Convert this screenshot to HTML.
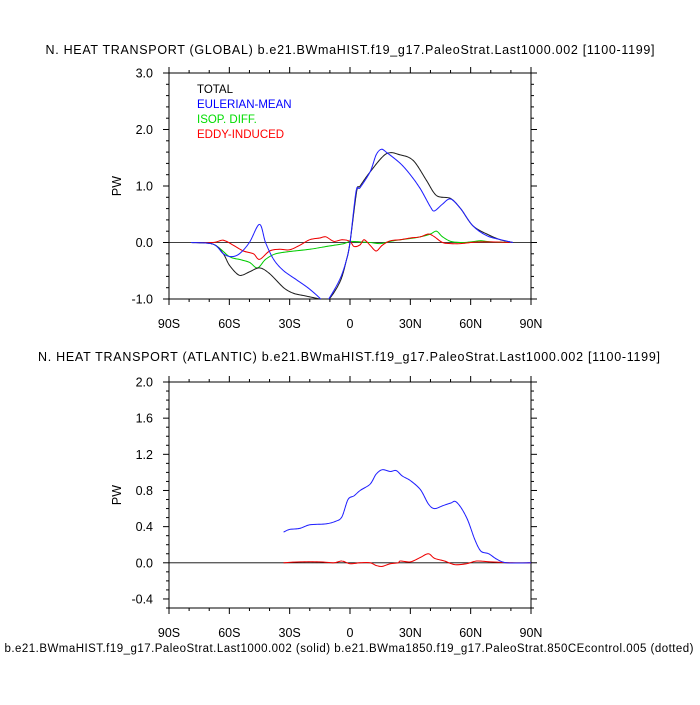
<!DOCTYPE html>
<html><head><meta charset="utf-8"><style>
body{margin:0;background:#fff;}
svg text{font-family:"Liberation Sans",sans-serif;fill:#000;}
</style></head><body>
<svg id="c" width="700" height="700" viewBox="0 0 700 700" xmlns="http://www.w3.org/2000/svg">
<text x="350" y="54" font-size="12.5" text-anchor="middle" textLength="609">N. HEAT TRANSPORT (GLOBAL) b.e21.BWmaHIST.f19_g17.PaleoStrat.Last1000.002 [1100-1199]</text>
<text x="349" y="361" font-size="12.5" text-anchor="middle" textLength="622">N. HEAT TRANSPORT (ATLANTIC) b.e21.BWmaHIST.f19_g17.PaleoStrat.Last1000.002 [1100-1199]</text>
<text x="349" y="652" font-size="11.5" text-anchor="middle" textLength="689">b.e21.BWmaHIST.f19_g17.PaleoStrat.Last1000.002 (solid) b.e21.BWma1850.f19_g17.PaleoStrat.850CEcontrol.005 (dotted)</text>
<text x="197" y="93" font-size="11.5">TOTAL</text>
<text x="197" y="108" font-size="11.5" style="fill:#0000ff">EULERIAN-MEAN</text>
<text x="197" y="123" font-size="11.5" style="fill:#00dd00">ISOP. DIFF.</text>
<text x="197" y="138" font-size="11.5" style="fill:#ff0000">EDDY-INDUCED</text>
</svg>
<script>
const latTicks=[-90,-60,-30,0,30,60,90];
const latLabels=["90S","60S","30S","0","30N","60N","90N"];
const gTicks=[-1,0,1,2,3];
const gLabels=["-1.0","0.0","1.0","2.0","3.0"];
const aTicks=[-0.4,0,0.4,0.8,1.2,1.6,2.0];
const aLabels=["-0.4","0.0","0.4","0.8","1.2","1.6","2.0"];
const totLat=[-79,-68,-63,-60,-55,-50,-45,-40,-33,-28,-21.5,-15,-11,-5,-1.7,0,3.3,5,10,18,25,31.5,38,43,50,55,61,68,74.6,81];
const totVal=[0,-0.03,-0.2,-0.4,-0.58,-0.52,-0.45,-0.55,-0.8,-0.9,-0.95,-1.0,-1.02,-0.7,-0.3,0,0.9,1.0,1.25,1.57,1.55,1.45,1.1,0.83,0.78,0.6,0.3,0.15,0.05,0];
const eulLat=[-79,-68,-63,-59,-55,-50,-45,-42,-38,-33,-27,-21,-16,-13,-11,-5,-1.7,0,3,5,10,13,15.5,18,25,30,35,40,42,46,50,55,61,68,75,81];
const eulVal=[0,-0.03,-0.2,-0.25,-0.2,0,0.32,0,-0.3,-0.5,-0.65,-0.8,-0.95,-1.05,-1.02,-0.65,-0.3,0,0.9,0.97,1.25,1.55,1.65,1.6,1.4,1.2,0.95,0.63,0.56,0.68,0.77,0.6,0.3,0.12,0.05,0];
const isoLat=[-79,-68,-60,-55,-50,-46,-42,-37,-30,-20,-10,-3,0,5,10,15,20,25,30,35,40,43,46,50,55,60,65,70,80];
const isoVal=[0,-0.03,-0.25,-0.3,-0.35,-0.45,-0.3,-0.2,-0.16,-0.12,-0.06,-0.02,0.02,0.01,0,-0.02,0.02,0.05,0.07,0.1,0.15,0.2,0.1,0.02,0,0.01,0.03,0.01,0];
const edLat=[-79,-68,-63,-58,-53,-48,-45,-40,-35,-30,-25,-20,-15,-12,-8,-4,0,2,5,7,10,13,16,20,25,30,35,39,42,46,50,55,60,65,70,80];
const edVal=[0,0,0.04,-0.05,-0.15,-0.2,-0.3,-0.15,-0.12,-0.13,-0.05,0.05,0.08,0.1,0.02,0.05,0.02,-0.07,-0.04,0.05,-0.05,-0.15,-0.05,0.03,0.05,0.08,0.1,0.15,0.1,0,-0.02,-0.02,0,0.01,0.01,0];
const atlLat=[-33,-30,-25,-20,-12,-7,-4,-1,2,5,10,13,16,20,23,26,30,35,39,42,46,50,53,58,62,65,69,73,78,90];
const atlEul=[0.34,0.37,0.38,0.42,0.43,0.46,0.51,0.7,0.74,0.8,0.87,0.98,1.03,1.01,1.02,0.96,0.91,0.81,0.65,0.6,0.63,0.66,0.67,0.5,0.26,0.13,0.1,0.04,0,0];
const atlEdLat=[-33,-25,-15,-8,-4,0,5,10,13,16,20,24,25,30,35,39,42,47,52,58,63,70,80,90];
const atlEdVal=[0,0.01,0.01,0,0.02,-0.01,0,0,-0.03,-0.04,-0.01,0,0.02,0.01,0.06,0.1,0.05,0.02,-0.02,-0.01,0.02,0.01,0,0];

const svg=document.getElementById('c');
const NS='http://www.w3.org/2000/svg';
function mk(t,a){const e=document.createElementNS(NS,t);for(const k in a)e.setAttribute(k,a[k]);svg.appendChild(e);return e;}
const X0=169,X1=531;
function xs(l){return X0+(l+90)/180*(X1-X0);}
function smooth(P){
  let d='M'+P[0][0].toFixed(1)+','+P[0][1].toFixed(1);
  for(let i=0;i<P.length-1;i++){
    const p0=P[Math.max(i-1,0)],p1=P[i],p2=P[i+1],p3=P[Math.min(i+2,P.length-1)];
    const c1=[p1[0]+(p2[0]-p0[0])/6,p1[1]+(p2[1]-p0[1])/6];
    const c2=[p2[0]-(p3[0]-p1[0])/6,p2[1]-(p3[1]-p1[1])/6];
    d+='C'+c1[0].toFixed(1)+','+c1[1].toFixed(1)+' '+c2[0].toFixed(1)+','+c2[1].toFixed(1)+' '+p2[0].toFixed(1)+','+p2[1].toFixed(1);
  }
  return d;
}

function panel(id,top,bot,ymin,ymax,yt,yl,minorStep){
  const ys=v=>bot-(v-ymin)/(ymax-ymin)*(bot-top);
  const clip=mk('clipPath',{id:'clip'+id});
  const r=document.createElementNS(NS,'rect');r.setAttribute('x',X0);r.setAttribute('y',top);r.setAttribute('width',X1-X0);r.setAttribute('height',bot-top);clip.appendChild(r);
  const fr=mk('rect',{x:X0,y:top,width:X1-X0,height:bot-top,fill:'none',stroke:'#000','stroke-width':1});
  
  
  for(let l=-90;l<=90;l+=10){
    const maj=l%30===0,len=maj?6:3;
    mk('line',{x1:xs(l),x2:xs(l),y1:bot,y2:bot+len,stroke:'#000'});
    mk('line',{x1:xs(l),x2:xs(l),y1:top,y2:top-len,stroke:'#000'});
  }
  latTicks.forEach((l,i)=>{
    const t=mk('text',{x:xs(l),y:bot+29,'font-size':12.5,'text-anchor':'middle'});t.textContent=latLabels[i];
    
    
  });
  const n=Math.round((ymax-ymin)/minorStep);
  for(let i=0;i<=n;i++){
    const v=ymin+i*minorStep,y=ys(v);
    const maj=yt.some(m=>Math.abs(m-v)<1e-6),len=maj?6:3;
    mk('line',{x1:X0,x2:X0-len,y1:y,y2:y,stroke:'#000'});
    mk('line',{x1:X1,x2:X1+len,y1:y,y2:y,stroke:'#000'});
  }
  yt.forEach((v,i)=>{
    const t=mk('text',{x:153,y:ys(v)+4.5,'font-size':12.5,'text-anchor':'end'});t.textContent=yl[i];
    
    
  });
  const yc=(top+bot)/2;
  const yt2=mk('text',{x:121,y:yc,'font-size':12.5,'text-anchor':'middle',transform:`rotate(-90 121 ${yc})`});yt2.textContent='PW';
  
  
  const z=mk('line',{x1:X0,x2:X1,y1:ys(0),y2:ys(0),stroke:'#000','stroke-width':0.8});
  
  
  return function(lat,val,color,name){
    const d=smooth(lat.map((l,i)=>[xs(l),ys(val[i])]));
    const p=mk('path',{d:d,fill:'none',stroke:color,'stroke-width':1,'clip-path':`url(#clip${id})`});
    
    
    const q=mk('path',{d:d,fill:'none',stroke:color,'stroke-width':0.8,'stroke-dasharray':'2 2','stroke-opacity':0.6,'clip-path':`url(#clip${id})`});
    
    
  };
}
const g=panel('global',73,299,-1,3,gTicks,gLabels,0.2);
g(isoLat,isoVal,'#00cc00','global-isop-diff-line');
g(edLat,edVal,'#ee0000','global-eddy-induced-line');
g(totLat,totVal,'#222','global-total-line');
g(eulLat,eulVal,'#2222ff','global-eulerian-mean-line');
const a=panel('atlantic',382,608,-0.5,2.0,aTicks,aLabels,0.1);
a(atlEdLat,atlEdVal,'#ee0000','atlantic-eddy-induced-line');
a(atlLat,atlEul,'#2222ff','atlantic-eulerian-mean-line');
</script>
</body></html>
